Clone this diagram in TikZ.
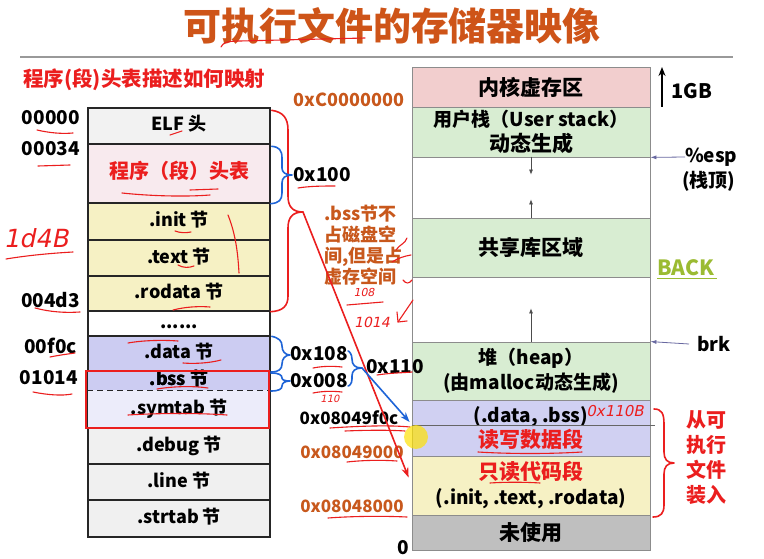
\documentclass[tikz,border=0pt]{standalone}
\usepackage{fontspec}
\setmainfont{Noto Sans CJK SC}
\newfontfamily\handfont{DejaVu Sans}[FakeSlant=0.2]
\usetikzlibrary{arrows.meta,calc}

\definecolor{titleor}{RGB}{206,84,24}
\definecolor{addror}{RGB}{200,88,28}
\definecolor{pen}{RGB}{235,30,30}
\definecolor{penblue}{RGB}{30,100,215}
\definecolor{elfgray}{RGB}{242,242,242}
\definecolor{hdrpink}{RGB}{248,234,238}
\definecolor{secyellow}{RGB}{246,241,196}
\definecolor{seclav}{RGB}{204,204,242}
\definecolor{symlav}{RGB}{236,236,250}
\definecolor{secgray}{RGB}{240,240,240}
\definecolor{kernpink}{RGB}{242,206,206}
\definecolor{mapgreen}{RGB}{216,237,210}
\definecolor{maplav}{RGB}{208,208,242}
\definecolor{unusedgray}{RGB}{191,191,191}
\definecolor{backgreen}{RGB}{155,187,50}
\definecolor{ptrnavy}{RGB}{40,40,120}

% larger size for the Chinese captions of the memory map
\newcommand\cjkbig[1]{{\fontsize{21}{25}\selectfont #1}}

\tikzset{
  sect/.style={draw=black!85, line width=1.4pt, minimum width=182pt, inner sep=0pt,
    font=\bfseries\fontsize{18}{20}\selectfont, text height=13pt, text depth=3pt},
  mapbox/.style={draw=black!45, line width=0.8pt, minimum width=238pt, inner sep=0pt,
    align=center, font=\bfseries\fontsize{19}{25}\selectfont},
  offs/.style={font=\bfseries\fontsize{19}{21}\selectfont, inner sep=0pt},
  vaddr/.style={font=\bfseries\fontsize{17}{19}\selectfont, inner sep=0pt},
  penstroke/.style={draw=pen, line width=1.6pt, line cap=round, line join=round},
  bluestroke/.style={draw=penblue, line width=1.6pt, line cap=round, line join=round},
  scribble/.style={draw=pen, line width=1.1pt, line cap=round, line join=round},
  handtext/.style={text=pen, inner sep=0pt, font=\handfont},
  gaparrow/.style={draw=black!70, line width=0.7pt, -{Latex[length=5pt,width=4pt]}},
  ptr/.style={draw=ptrnavy!70, line width=0.8pt, -{Latex[length=6pt,width=4pt]}},
}

\begin{document}
\begin{tikzpicture}[x=1pt,y=-1pt]
\useasboundingbox (0,0) rectangle (764,559);
\fill[white] (0,0) rectangle (764,559);

% heading
\node[text=titleor, font=\bfseries\fontsize{38}{40}\selectfont, inner sep=0pt] (title) at (392,26) {可执行文件的存储器映像};
\draw[black!40, line width=1.5pt] (20,57) -- (733,57);
\node[text=pen, font=\bfseries\fontsize{20.5}{22}\selectfont, inner sep=0pt, anchor=west] (sub) at (23,80) {程序(段)头表描述如何映射};

% ELF file layout (left column)
\node[sect, fill=elfgray, minimum height=36pt] (elf) at (179,126) {ELF 头};
\node[sect, fill=hdrpink, minimum height=59pt, text=pen, font=\bfseries\fontsize{20}{22}\selectfont] (phdr) at (179,173.5) {程序（段）头表};
\node[sect, fill=secyellow, minimum height=37pt] (init) at (179,221.5) {.init 节};
\node[sect, fill=secyellow, minimum height=36pt] (text) at (179,258) {.text 节};
\node[sect, fill=secyellow, minimum height=35pt] (rodata) at (179,293.5) {.rodata 节};
\node[sect, fill=white, minimum height=25pt] (dots) at (179,323.5) {......};
\node[sect, fill=seclav, minimum height=35pt] (data) at (179,353.5) {.data 节};
\node[sect, draw=none, fill=seclav, minimum height=19pt, text height=11pt, text depth=2pt] (bss) at (179,380.5) {.bss 节};
\node[sect, draw=none, fill=symlav, minimum height=38pt] (symtab) at (179,409) {.symtab 节};
\draw[black!85, line width=1.4pt] (bss.north west) rectangle (symtab.south east);
\node[text height=11pt, text depth=2pt, font=\bfseries\fontsize{18}{20}\selectfont, inner sep=0pt] at (179,380.5) {.bss 节};
\draw[black!85, line width=1pt, dash pattern=on 6pt off 4pt] (bss.south west) -- (bss.south east);
\node[sect, fill=secgray, minimum height=36pt] (debug) at (179,446) {.debug 节};
\node[sect, fill=secgray, minimum height=36pt] (line) at (179,482) {.line 节};
\node[sect, fill=secgray, minimum height=37pt] (strtab) at (179,518.5) {.strtab 节};
\draw[pen, line width=2pt] (86,371) rectangle (269,428);

% file offsets
\node[offs, anchor=east] (o0) at (80,118) {00000};
\node[offs, anchor=east] (o1) at (80,149) {00034};
\node[offs, anchor=east] (o2) at (80,300) {004d3};
\node[offs, anchor=east] (o3) at (77,346) {00f0c};
\node[offs, anchor=east] (o4) at (78,378) {01014};

% process image (right column)
\node[mapbox, fill=kernpink, minimum height=40pt] (kern) at (531,87) {\cjkbig{内核虚存区}};
\node[mapbox, fill=mapgreen, minimum height=50pt] (ustack) at (531,132) {用户栈（User stack）\\\cjkbig{动态生成}};
\node[mapbox, fill=white, minimum height=61pt] (gap1) at (531,187.5) {};
\node[mapbox, fill=mapgreen, minimum height=59pt] (shlib) at (531,247.5) {\cjkbig{共享库区域}};
\node[mapbox, fill=white, minimum height=65pt] (gap2) at (531,309.5) {};
\node[mapbox, fill=mapgreen, minimum height=58pt] (heap) at (531,371) {堆（heap）\\(由malloc动态生成)};
\node[mapbox, fill=maplav, minimum height=56pt] (rw) at (531,428) {(.data, .bss)\\\textcolor{pen}{\cjkbig{读写数据段}}};
\node[mapbox, fill=secyellow, minimum height=59pt] (ro) at (531,485.5) {\textcolor{pen}{\cjkbig{只读代码段}}\\(.init, .text, .rodata)};
\node[mapbox, fill=unusedgray, minimum height=35pt] (unused) at (531,532.5) {\cjkbig{未使用}};
\draw[black!60, line width=0.8pt] (rw.west) ++(0,-3) -- ++(243,0);

\draw[gaparrow] (gap1.north) -- ++(0,18);
\draw[gaparrow] (gap1.south) -- ++(0,-19);
\draw[gaparrow] (gap2.south) -- ++(0,-34);

% markers on the right
\draw[line width=2.2pt, -{Stealth[length=9pt,width=7pt]}] (662,107) -- (662,67);
\node[offs, anchor=west, font=\bfseries\fontsize{20}{22}\selectfont] (gb) at (671,91) {1GB};
\node[offs, anchor=west] (esp) at (685,157) {\%esp};
\node[offs, anchor=west] (esptop) at (682,181) {(栈顶)};
\draw[ptr] (esp.west) -- (ustack.south east);
\node[offs, anchor=west, text=backgreen, font=\bfseries\fontsize{21}{23}\selectfont] (back) at (657,268) {BACK};
\draw[backgreen, line width=0.8pt] (back.south west) ++(0,2) -- ++(60,0);
\node[offs, anchor=west] (brk) at (697,344) {brk};
\draw[ptr] ($(brk.west)+(-8,0)$) -- (heap.north east);

\draw[penstroke] (654,409) .. controls (662,409) and (664,414) .. (664,424) -- (664,452)
  .. controls (664,459) and (667,463) .. (674,463) .. controls (667,463) and (664,467) .. (664,474)
  -- (664,505) .. controls (664,513) and (661,517) .. (653,517);
\node[text=pen, font=\bfseries\fontsize{20}{25}\selectfont, align=center, inner sep=0pt] (loaded) at (706,458) {从可\\执行\\文件\\装入};

% virtual addresses
\node[vaddr, text=addror, font=\bfseries\fontsize{18}{20}\selectfont] (vtop) at (349,100) {0xC0000000};
\node[vaddr] (v1) at (349,418) {0x08049f0c};
\node[vaddr, text=addror] (v2) at (352,452) {0x08049000};
\node[vaddr, text=addror] (v3) at (352,506) {0x08048000};
\node[offs] (vz) at (403,548) {0};

% sizes
\node[offs, anchor=west] (s100) at (293,175) {0x100};
\node[offs, anchor=west] (s108) at (290,354) {0x108};
\node[offs, anchor=west] (s008) at (290,381) {0x008};
\node[offs, anchor=west] (s110) at (366,367) {0x110};

\node[text=addror, font=\bfseries\fontsize{18}{21}\selectfont, align=left, inner sep=0pt, anchor=west] (bssnote) at (324,245) {.bss节不\\占磁盘空\\间,但是占\\虚存空间};

% braces and arrows drawn over the layout
\draw[penstroke] (elf.north east) ++(1,3) .. controls (283,112) and (288,118) .. (288,130) -- (288,196)
  .. controls (288,206) and (292,212) .. (303,212) coordinate (bigtip)
  .. controls (292,212) and (288,218) .. (288,228) -- (288,296)
  .. controls (288,306) and (283,311) .. (rodata.south east);
\draw[penstroke, -{Stealth[length=10pt,width=7pt]}] (bigtip) -- ($(ro.west)+(-3,-8)$);

\draw[bluestroke] (phdr.north east) ++(1,3) .. controls (279,147) and (282,150) .. (282,158) -- (282,168)
  .. controls (282,172) and (285,175) .. (292,175) .. controls (285,175) and (282,178) .. (282,183)
  -- (282,193) .. controls (282,200) and (279,203) .. (phdr.south east);
\draw[bluestroke] (data.north east) ++(1,1) .. controls (279,338) and (282,341) .. (282,346)
  .. controls (282,351) and (285,355) .. (290,355) .. controls (285,355) and (282,359) .. (282,364)
  .. controls (282,369) and (279,372) .. (271,372);
\draw[bluestroke] (271,373) .. controls (279,373) and (282,375) .. (282,378)
  .. controls (282,380) and (285,381) .. (290,381) .. controls (285,381) and (282,383) .. (282,386)
  .. controls (282,389) and (279,391) .. (271,391);
\draw[bluestroke] (s108.east) ++(0,-3) .. controls (349,351) and (352,354) .. (352,359)
  .. controls (352,365) and (355,368) .. (362,368) coordinate (sumtip)
  .. controls (355,368) and (352,371) .. (352,376) -- (352,379)
  .. controls (352,384) and (349,386) .. ($(s008.east)+(0,5)$);
\draw[bluestroke, -{Stealth[length=10pt,width=7pt]}] (sumtip) -- ($(rw.west)+(-2,-6)$);

% hand-written marks
\draw[scribble] (221,47) .. controls (223,43) and (226,41) .. (240,41) -- (365,38);
\draw[scribble] (37,130) .. controls (50,133) and (62,134) .. (73,133);
\draw[scribble] (38,166) -- (70,165);
\draw[scribble] (170,135) -- (182,131);
\draw[scribble] (122,193) .. controls (150,196) and (185,197) .. (210,195);
\draw[scribble] (190,190) -- (218,189);
\draw[scribble] (175,231) .. controls (180,233) and (186,233) .. (191,232);
\draw[scribble] (178,265) .. controls (183,268) and (189,268) .. (194,266);
\draw[scribble] (173,310) .. controls (185,307) and (198,306) .. (210,307);
\draw[scribble] (35,308) .. controls (50,312) and (65,313) .. (80,312);
\draw[scribble] (228,215) .. controls (236,235) and (238,255) .. (239,273);
\draw[scribble] (128,343) .. controls (145,340) and (165,340) .. (178,341);
\draw[scribble] (183,363) .. controls (195,364) and (210,363) .. (221,360);
\draw[scribble] (157,389) .. controls (175,386) and (195,386) .. (208,388);
\draw[scribble] (50,357) .. controls (60,355) and (68,354) .. (75,353);
\draw[scribble] (33,392) .. controls (48,395) and (62,396) .. (72,394);
\draw[scribble] (128,415) .. controls (160,413) and (200,413) .. (227,415);
\draw[scribble] (298,188) .. controls (310,186) and (325,186) .. (335,186);
\draw[scribble] (313,368) .. controls (323,366) and (333,366) .. (342,367);
\draw[scribble] (313,393) .. controls (323,391) and (333,391) .. (342,392);
\draw[scribble] (377,375) .. controls (390,373) and (400,373) .. (412,372);
\draw[scribble] (330,428) .. controls (360,426) and (390,425) .. (410,427);
\draw[scribble] (345,431) .. controls (370,430) and (390,430) .. (405,431);
\draw[scribble] (347,462) .. controls (365,460) and (383,460) .. (397,461);
\draw[scribble] (328,518) .. controls (355,516) and (385,516) .. (407,517);
\draw[scribble] (478,452) .. controls (510,454) and (550,454) .. (582,452);
\draw[scribble] (490,483) .. controls (505,482) and (525,482) .. (540,483);
\draw[scribble] (6,259) .. controls (30,255) and (55,253) .. (73,252);
\node[handtext, font=\handfont\fontsize{25}{25}\selectfont] (h1) at (36,238) {1d4B};
\node[handtext, font=\handfont\fontsize{11}{11}\selectfont] (h2) at (364,292) {108};
\draw[scribble] (347,305) -- (383,302);
\node[handtext, font=\handfont\fontsize{14}{14}\selectfont] (h3) at (372,322) {1014};
\draw[scribble] (413,300) -- (398,322);
\draw[scribble] (397,312) -- (398,322) -- (407,321);
\draw[scribble] (396,250) .. controls (400,244) and (405,244) .. (407,238);
\draw[scribble] (392,262) .. controls (398,258) and (405,256) .. (411,255);
\draw[scribble] (403,280) .. controls (406,284) and (409,284) .. (412,280);
\node[handtext, font=\handfont\fontsize{10}{10}\selectfont] (h4) at (330,399) {110};
\node[handtext, font=\handfont\fontsize{15}{15}\selectfont] (h5) at (615,411) {0x110B};

% pointer highlight
\fill[yellow!85!orange, opacity=0.7] (416,437) circle (12pt);
\end{tikzpicture}
\end{document}
